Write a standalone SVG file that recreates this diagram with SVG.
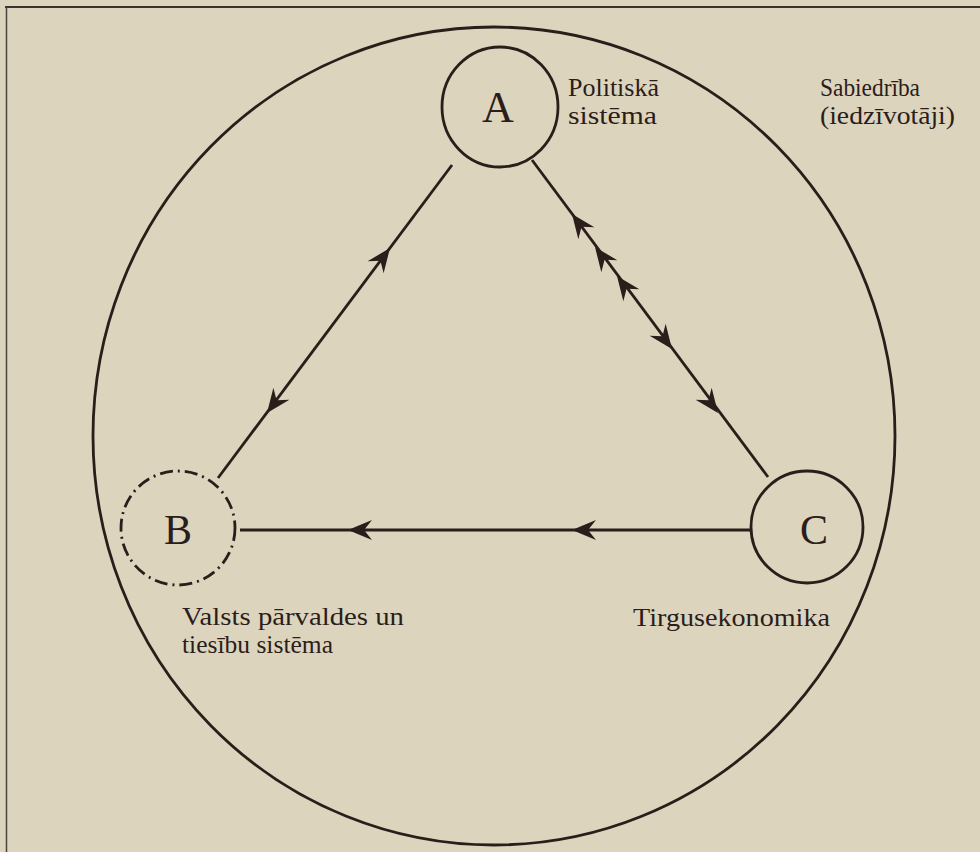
<svg xmlns="http://www.w3.org/2000/svg" width="980" height="852" viewBox="0 0 980 852">
<style>
.ln{stroke:#2b1d1a;stroke-width:2.8;fill:none}
.lbl{font-family:"Liberation Serif","DejaVu Serif",serif;font-size:25px;fill:#2b1d1a}
.big{font-family:"Liberation Serif","DejaVu Serif",serif;font-size:44px;fill:#2b1d1a;text-anchor:middle}
.ah{fill:#2b1d1a}
</style>
<defs>
<path id="ah" class="ah" d="M0,0 L-24,-10 L-16,0 L-24,10 Z"/>
</defs>
<rect x="0" y="0" width="980" height="852" fill="#ddd4be"/>
<g id="frame">
<line x1="5" y1="7" x2="980" y2="7" stroke="#3a3330" stroke-width="2"/>
<line x1="6.5" y1="7" x2="6.5" y2="852" stroke="#4a4440" stroke-width="1.5"/>
</g>
<g id="society">
<ellipse class="ln" cx="494" cy="436" rx="401" ry="409" stroke-width="3"/>
<text class="lbl" x="820" y="96" textLength="100" lengthAdjust="spacingAndGlyphs">Sabiedrība</text>
<text class="lbl" x="820" y="124" textLength="135" lengthAdjust="spacingAndGlyphs">(iedzīvotāji)</text>
</g>
<g id="nodeA">
<ellipse class="ln" cx="500" cy="107" rx="58" ry="60" stroke-width="3"/>
<text class="big" x="498" y="122">A</text>
<text class="lbl" x="568" y="96" textLength="91" lengthAdjust="spacingAndGlyphs">Politiskā</text>
<text class="lbl" x="568" y="124" textLength="89" lengthAdjust="spacingAndGlyphs">sistēma</text>
</g>
<g id="nodeB">
<circle class="ln" cx="178" cy="528" r="57" stroke-dasharray="13 5 2 5"/>
<text class="big" x="178" y="544" style="font-size:42px">B</text>
<text class="lbl" x="182" y="625" textLength="222" lengthAdjust="spacingAndGlyphs">Valsts pārvaldes un</text>
<text class="lbl" x="182" y="653" textLength="151" lengthAdjust="spacingAndGlyphs">tiesību sistēma</text>
</g>
<g id="nodeC">
<circle class="ln" cx="807" cy="527" r="56" stroke-width="4.5"/>
<text class="big" x="814" y="544" style="font-size:42px">C</text>
<text class="lbl" x="633" y="626" textLength="197" lengthAdjust="spacingAndGlyphs">Tirgusekonomika</text>
</g>
<g id="connectors">
<line class="ln" x1="452" y1="165" x2="218" y2="478"/>
<line class="ln" x1="532" y1="160" x2="768" y2="477"/>
<line class="ln" x1="750" y1="530" x2="240" y2="530"/>
<use href="#ah" transform="translate(390,248) rotate(-53.2)"/>
<use href="#ah" transform="translate(267,413) rotate(126.8)"/>
<use href="#ah" transform="translate(572,214) rotate(-126.7)"/>
<use href="#ah" transform="translate(595,247) rotate(-126.7)"/>
<use href="#ah" transform="translate(617,276) rotate(-126.7)"/>
<use href="#ah" transform="translate(672,349) rotate(53.3)"/>
<use href="#ah" transform="translate(718,413) rotate(53.3)"/>
<use href="#ah" transform="translate(348,530) rotate(180)"/>
<use href="#ah" transform="translate(572,530) rotate(180)"/>
</g>
</svg>
